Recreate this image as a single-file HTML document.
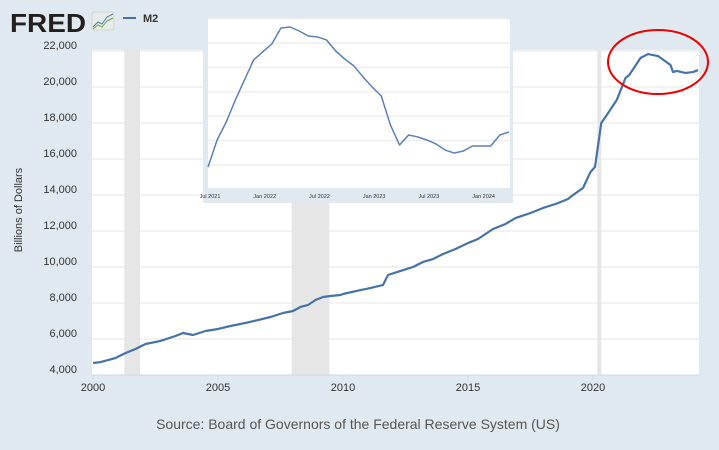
<!DOCTYPE html>
<html><head><meta charset="utf-8"><style>
body{margin:0;background:#e1e9f0;}
svg{display:block;font-family:"Liberation Sans",sans-serif;}
</style></head><body>
<svg width="719" height="450" viewBox="0 0 719 450">
<rect x="0" y="0" width="719" height="450" fill="#e1e9f0"/>
<g id="main"></g>
<g>
<text x="10" y="32" font-size="26" font-weight="bold" fill="#231f20" textLength="76" lengthAdjust="spacingAndGlyphs">FRED</text>
<rect x="92" y="12" width="22" height="18" rx="2" fill="#e8ece8" stroke="#cfd6cf"/>
<polyline points="93,27 98,22 102,24 107,17 113,14" fill="none" stroke="#4a7fb5" stroke-width="1"/>
<polyline points="93,29 98,25 102,27 107,21 113,18" fill="none" stroke="#6aa84f" stroke-width="1"/>
</g>
<g>
<line x1="123" y1="18" x2="136" y2="18" stroke="#4572a7" stroke-width="2"/>
<text x="143" y="22" font-size="11" font-weight="bold" fill="#333">M2</text>
</g>
<text x="22" y="210" font-size="11" fill="#333" text-anchor="middle" transform="rotate(-90 22 210)">Billions of Dollars</text>
<text x="358" y="429" font-size="14" fill="#555" text-anchor="middle">Source: Board of Governors of the Federal Reserve System (US)</text>
<ellipse cx="658" cy="62" rx="50" ry="32" fill="none" stroke="#e00" stroke-width="2"/>
<g id="inset"></g>
</svg>
<script>
// Main chart data
const mainYears=[2000,2000.3,2000.9,2001.3,2001.7,2002.1,2002.7,2003.3,2003.6,2004.0,2004.5,2005.0,2005.5,2006.1,2006.6,2007.1,2007.6,2008.0,2008.3,2008.6,2008.9,2009.2,2009.5,2009.9,2010.0,2010.7,2011.0,2011.6,2011.8,2012.3,2012.8,2013.2,2013.6,2014.0,2014.5,2015.0,2015.4,2016.0,2016.5,2016.9,2017.5,2018.0,2018.5,2019.0,2019.2,2019.6,2019.9,2020.08,2020.33,2020.55,2020.95,2021.3,2021.45,2021.9,2022.2,2022.6,2023.1,2023.2,2023.35,2023.7,2024.0,2024.2];
const mainValues=[4667,4720,4944,5222,5444,5722,5890,6167,6333,6222,6444,6556,6722,6890,7055,7222,7444,7555,7778,7890,8167,8333,8390,8444,8500,8720,8800,9000,9555,9780,10000,10280,10440,10720,11000,11330,11555,12110,12390,12720,13000,13280,13500,13780,14000,14390,15280,15555,18000,18440,19280,20500,20667,21610,21830,21720,21220,20830,20890,20780,20830,20940];
const yTicks=[4000,6000,8000,10000,12000,14000,16000,18000,20000,22000];
const xTicks=[2000,2005,2010,2015,2020];
const recessionStarts=[2001.25,2007.95,2020.17];
const recessionEnds=[2001.88,2009.45,2020.33];
// Inset data (monthly from Jul 2021)
const insetValues=[20229,20506,20690,20916,21121,21326,21408,21490,21654,21664,21623,21572,21562,21531,21418,21336,21264,21152,21049,20957,20660,20455,20557,20537,20506,20465,20403,20372,20393,20444,20444,20444,20557,20588];
const insetTickLabels=["Jul 2021","Jan 2022","Jul 2022","Jan 2023","Jul 2023","Jan 2024"];
const insetTickMonths=[0,6,12,18,24,30];
const insetGrid=[20000,20250,20500,20750,21000,21250,21500,21750];

const NS="http://www.w3.org/2000/svg";
function mk(tag,attrs,parent){const e=document.createElementNS(NS,tag);for(const k in attrs)e.setAttribute(k,attrs[k]);parent.appendChild(e);return e;}
const X0=93,PX=25,L=92,R=699,T=50,B=375;
const xs=y=>X0+(y-2000)*PX;
const ys=v=>B-(v-4000)*0.018;
const main=document.getElementById('main');
const plot=mk('rect',{x:L,y:T,width:R-L,height:B-T,fill:'#fff'},main);


recessionStarts.forEach((s,i)=>{
 const r=mk('rect',{x:xs(s),y:T,width:xs(recessionEnds[i])-xs(s),height:B-T,fill:'#e6e6e6'},main);
 
 
});
yTicks.forEach(v=>{
 const g=mk('line',{x1:L,x2:R,y1:ys(v),y2:ys(v),stroke:v===4000?'#ccd6eb':'#e6e6e6','stroke-width':1},main);
 
 
 const t=mk('text',{x:77,y:ys(v)-2,'font-size':11,fill:'#333','text-anchor':'end'},main);
 t.textContent=v.toLocaleString('en-US');
 
 
});
xTicks.forEach(y=>{
 mk('line',{x1:xs(y),x2:xs(y),y1:B,y2:B+5,stroke:'#ccd6eb'},main);
 const t=mk('text',{x:xs(y),y:B+16,'font-size':11,fill:'#333','text-anchor':'middle'},main);
 t.textContent=y;
 
 
});
const pl=mk('polyline',{points:mainYears.map((y,i)=>xs(y)+','+ys(mainValues[i])).join(' '),fill:'none',stroke:'#4572a7','stroke-width':2.2,'stroke-linejoin':'round'},main);



// Inset
const ins=document.getElementById('inset');
const ix=m=>208+m*9.12;
const iy=v=>43+(21500-v)/10.25;
const box=mk('rect',{x:203,y:13,width:310,height:190,fill:'#e1e9f0'},ins);


mk('rect',{x:208,y:18,width:302,height:170,fill:'#fff'},ins);
insetGrid.forEach(v=>{
 const y=iy(v); if(y<18||y>188)return;
 const g=mk('line',{x1:208,x2:510,y1:y,y2:y,stroke:'#eeeeee','stroke-width':1.5},ins);
 
 
});
insetTickMonths.forEach((m,i)=>{
 const t=mk('text',{x:ix(m)+2,y:198,'font-size':5.5,fill:'#333','text-anchor':'middle'},ins);
 t.textContent=insetTickLabels[i];
 
 
});
const ipl=mk('polyline',{points:insetValues.map((v,i)=>ix(i)+','+iy(v)).join(' '),fill:'none',stroke:'#5a80b5','stroke-width':1.5,'stroke-linejoin':'round'},ins);


</script>
</body></html>
